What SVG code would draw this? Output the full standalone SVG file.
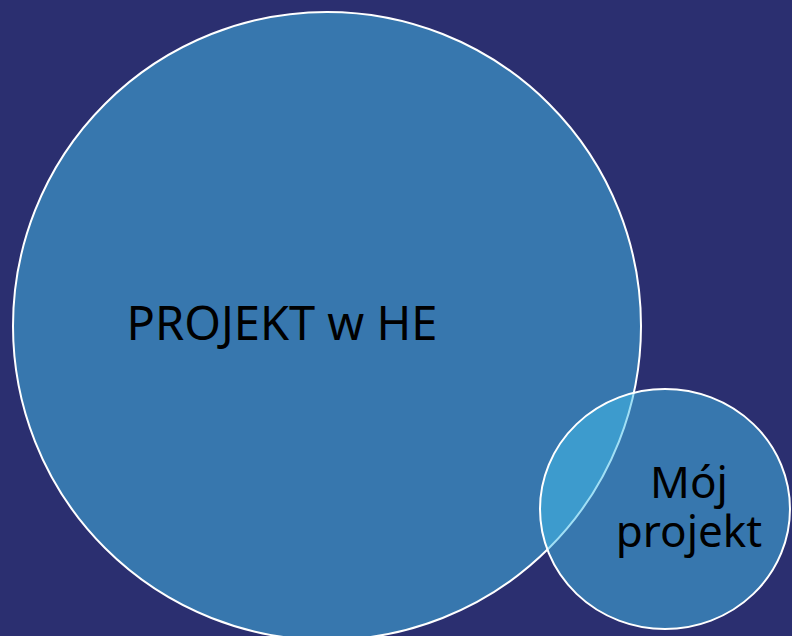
<svg xmlns="http://www.w3.org/2000/svg" width="792" height="636" viewBox="0 0 792 636">
<style>
.lbl{font-family:"Noto Sans","Liberation Sans",sans-serif;font-size:44px;fill:#000;text-anchor:middle}
.c{stroke:#fff;stroke-width:2}
</style>
<rect width="792" height="636" fill="#2B2F70"/>
<g id="projekt-he">
<circle class="c" cx="327" cy="326" r="314" fill="#3777AE"/>
<text class="lbl" x="282" y="340" style="font-size:47px">PROJEKT w HE</text>
</g>
<g id="moj-projekt">
<ellipse class="c" cx="665" cy="509" rx="125" ry="120" fill="#43BFEC" fill-opacity="0.5"/>
<text class="lbl"><tspan x="689" y="498">Mój</tspan><tspan x="689" y="547">projekt</tspan></text>
</g>
<g id="connectors"/>
</svg>
